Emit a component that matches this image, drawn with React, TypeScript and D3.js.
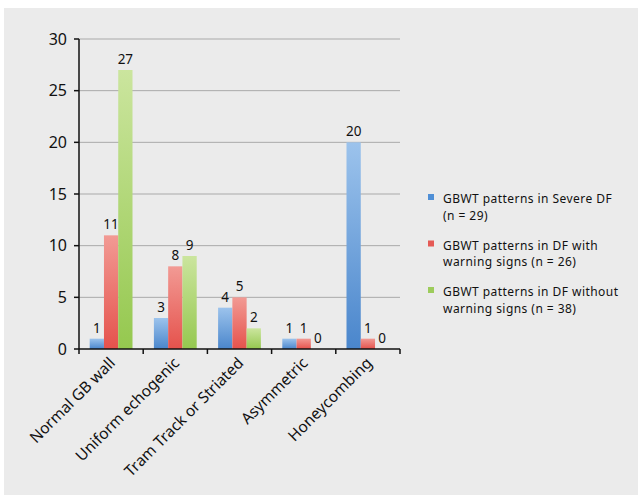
import React from "react";
import * as d3 from "d3";

const categories = ["Normal GB wall", "Uniform echogenic", "Tram Track or Striated", "Asymmetric", "Honeycombing"];
const severe = [1, 3, 4, 1, 20];
const withWarning = [11, 8, 5, 1, 1];
const withoutWarning = [27, 9, 2, 0, 0];
const seriesNames = [
  ["GBWT patterns in Severe DF", "(n = 29)"],
  ["GBWT patterns in DF with", "warning signs (n = 26)"],
  ["GBWT patterns in DF without", "warning signs (n = 38)"],
];
const yTicks = [0, 5, 10, 15, 20, 25, 30];

const colors = [
  { top: "#9cc3ec", bottom: "#4a86cc", key: "#4f8fd6" },
  { top: "#f29a94", bottom: "#e5524c", key: "#e55a55" },
  { top: "#cbe59e", bottom: "#95c84f", key: "#9dcc5c" },
];

const font = "'Noto Sans', 'Open Sans', sans-serif";

const App = () => {
  const W = 638, H = 503;
  const left = 79, right = 400, top = 39, bottom = 349;
  const series = [severe, withWarning, withoutWarning];

  const x = d3.scaleBand().domain(categories).range([left, right]);
  const inner = d3.scaleBand().domain(["0", "1", "2"]).range([0, x.bandwidth()]).paddingOuter(0.75).paddingInner(0);
  const y = d3.scaleLinear().domain([0, 30]).range([bottom, top]);

  return (
    <svg width={W} height={H} style={{ position: "absolute", left: 0, top: 0 }}>
      <defs>
        {colors.map((c, i) => (
          <linearGradient key={i} id={`g${i}`} x1="0" y1="0" x2="0" y2="1">
            <stop offset="0%" stopColor={c.top} />
            <stop offset="100%" stopColor={c.bottom} />
          </linearGradient>
        ))}
      </defs>
      <rect x={4} y={8} width={634} height={487} fill="#ebebeb" />
      {yTicks.slice(1).map((t) => (
        <line key={t} x1={left} x2={right} y1={y(t)} y2={y(t)} stroke="#a9a9a9" strokeWidth={1} />
      ))}
      {categories.map((c, ci) => (
        <g key={c}>
          {series.map((s, si) => {
            const v = s[ci];
            const bx = x(c)! + inner(String(si))!;
            const bw = inner.bandwidth();
            return (
              <g key={si}>
                {v > 0 && (
                  <rect x={bx} y={y(v)} width={bw} height={y(0) - y(v)} fill={`url(#g${si})`} />
                )}
                <text x={bx + bw / 2} y={y(v) - 6} textAnchor="middle" fontFamily={font} fontSize={13.5} fill="#111">
                  {v}
                </text>
              </g>
            );
          })}
        </g>
      ))}
      {/* y axis */}
      <line x1={left} x2={left} y1={top} y2={bottom} stroke="#111" strokeWidth={1.5} />
      {yTicks.map((t) => (
        <g key={t}>
          <line x1={left - 5} x2={left} y1={y(t)} y2={y(t)} stroke="#111" strokeWidth={1.5} />
          <text x={left - 12} y={y(t) + 5.5} textAnchor="end" fontFamily={font} fontSize={16} fill="#111">
            {t}
          </text>
        </g>
      ))}
      {/* x axis */}
      <line x1={left} x2={right} y1={bottom} y2={bottom} stroke="#111" strokeWidth={1.5} />
      {[...categories.map((c) => x(c)!), right].map((px, i) => (
        <line key={i} x1={px} x2={px} y1={bottom} y2={bottom + 5} stroke="#111" strokeWidth={1.5} />
      ))}
      {categories.map((c) => {
        const cx = x(c)! + x.bandwidth() / 2 + 5;
        const cy = bottom + 15;
        return (
          <text key={c} transform={`translate(${cx},${cy}) rotate(-45)`} textAnchor="end" fontFamily={font} fontSize={15.5} fill="#111">
            {c}
          </text>
        );
      })}
      {/* legend */}
      {seriesNames.map((lines, i) => {
        const ly = 194 + i * 46.5;
        return (
          <g key={i}>
            <rect x={428} y={ly} width={6} height={6} fill={colors[i].key} />
            {lines.map((t, j) => (
              <text key={j} x={443} y={ly + 9 + j * 16.5} fontFamily={font} fontSize={12} letterSpacing={0.45} fill="#111">
                {t}
              </text>
            ))}
          </g>
        );
      })}
    </svg>
  );
};

export default App;
